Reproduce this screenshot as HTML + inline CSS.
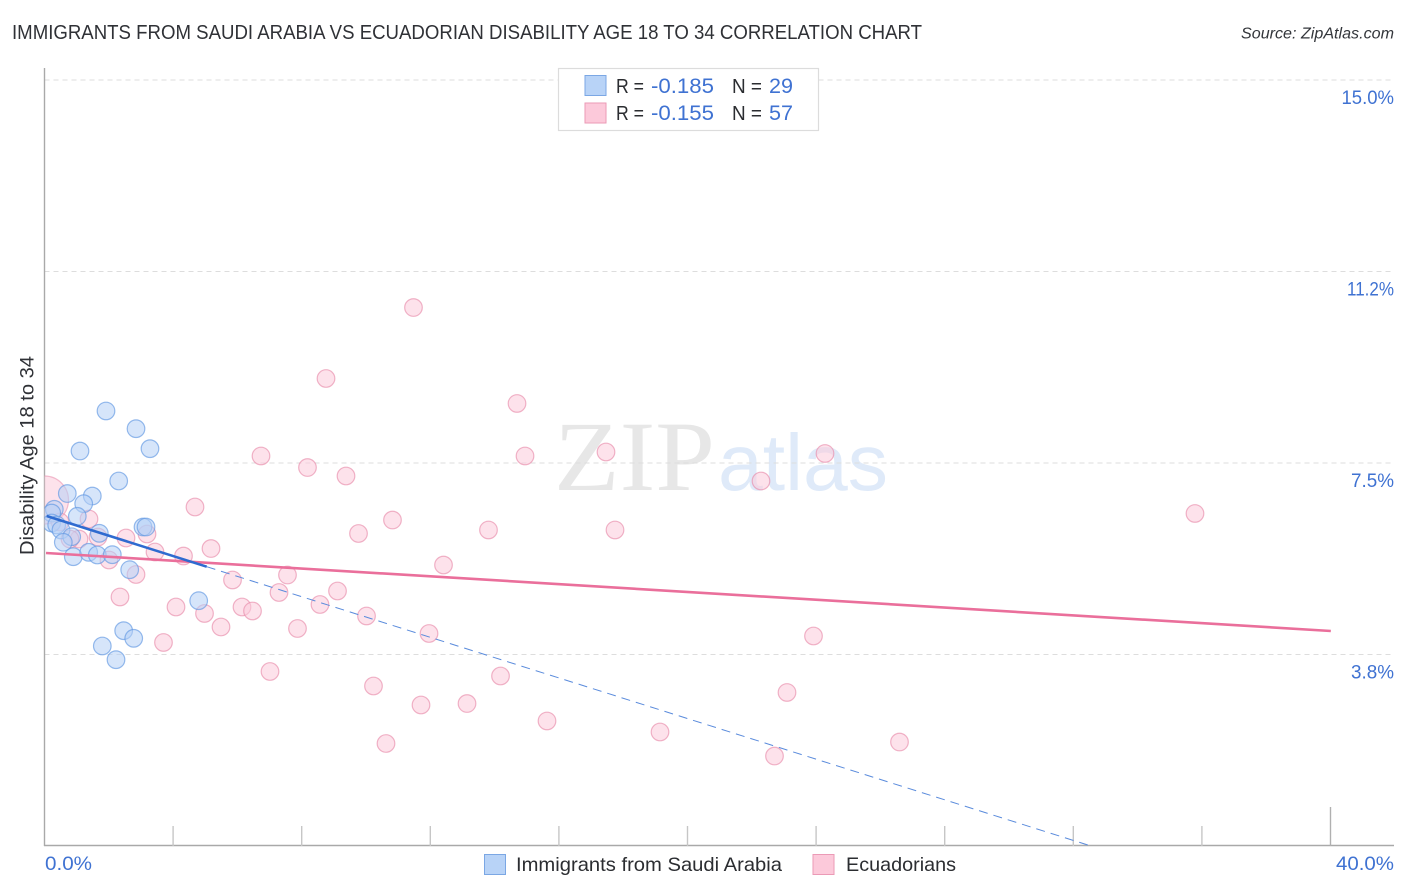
<!DOCTYPE html>
<html lang="en">
<head>
<meta charset="utf-8">
<title>Immigrants from Saudi Arabia vs Ecuadorian Disability Age 18 to 34 Correlation Chart</title>
<style>
html,body{margin:0;padding:0;background:#fff;width:1406px;height:892px;overflow:hidden}
svg{display:block}
text{font-family:"Liberation Sans",sans-serif}
</style>
</head>
<body>
<svg id="chart" xmlns="http://www.w3.org/2000/svg" width="1406" height="892" viewBox="0 0 1406 892">
  <defs>
    <clipPath id="plot-clip"><rect x="44.5" y="60" width="1350" height="786"/></clipPath>
  </defs>
  <text x="12" y="39" font-size="20" fill="#2f3136" textLength="910" lengthAdjust="spacingAndGlyphs">IMMIGRANTS FROM SAUDI ARABIA VS ECUADORIAN DISABILITY AGE 18 TO 34 CORRELATION CHART</text>
  <text x="1241" y="38.5" font-size="15.5" font-style="italic" fill="#33363b" textLength="153" lengthAdjust="spacingAndGlyphs">Source: ZipAtlas.com</text>

  <g>
    <text x="554" y="490" font-size="100" fill="#e7e7e7" textLength="161" lengthAdjust="spacingAndGlyphs" style="font-family:'Liberation Serif',serif">ZIP</text>
    <text x="718" y="490" font-size="80" fill="#dfeaf9" textLength="170" lengthAdjust="spacingAndGlyphs">atlas</text>
  </g>

  <g id="grid"></g>
  <g id="axes"></g>
  <g id="marks" clip-path="url(#plot-clip)"></g>
  <g id="labels"></g>

  <text transform="translate(33.5,555) rotate(-90)" x="0" y="0" font-size="19" fill="#2f3136" textLength="199" lengthAdjust="spacingAndGlyphs">Disability Age 18 to 34</text>

  <g>
    <rect x="558.5" y="68.5" width="260" height="62" fill="#fff" stroke="#dcdcdc" stroke-width="1.2"/>
    <rect x="585" y="75.5" width="21" height="20" fill="#b8d3f7" stroke="#7ba7e4" stroke-width="1"/>
    <rect x="585" y="103" width="21" height="20" fill="#fcc9da" stroke="#eb9ab6" stroke-width="1"/>
    <text x="616" y="93" font-size="20" fill="#2b2d31" textLength="28" lengthAdjust="spacingAndGlyphs">R =</text>
    <text x="651" y="93" font-size="21" fill="#3f72d2" textLength="63" lengthAdjust="spacingAndGlyphs">-0.185</text>
    <text x="732" y="93" font-size="20" fill="#2b2d31" textLength="30" lengthAdjust="spacingAndGlyphs">N =</text>
    <text x="769" y="93" font-size="21" fill="#3f72d2" textLength="24" lengthAdjust="spacingAndGlyphs">29</text>
    <text x="616" y="120" font-size="20" fill="#2b2d31" textLength="28" lengthAdjust="spacingAndGlyphs">R =</text>
    <text x="651" y="120" font-size="21" fill="#3f72d2" textLength="63" lengthAdjust="spacingAndGlyphs">-0.155</text>
    <text x="732" y="120" font-size="20" fill="#2b2d31" textLength="30" lengthAdjust="spacingAndGlyphs">N =</text>
    <text x="769" y="120" font-size="21" fill="#3f72d2" textLength="24" lengthAdjust="spacingAndGlyphs">57</text>
  </g>

  <g>
    <rect x="484.5" y="854.5" width="21" height="20" fill="#b8d3f7" stroke="#7ba7e4" stroke-width="1"/>
    <text x="516" y="871" font-size="19.5" fill="#2b2d31" textLength="266" lengthAdjust="spacingAndGlyphs">Immigrants from Saudi Arabia</text>
    <rect x="813" y="854.5" width="21" height="20" fill="#fcc9da" stroke="#eb9ab6" stroke-width="1"/>
    <text x="846" y="871" font-size="19.5" fill="#2b2d31" textLength="110" lengthAdjust="spacingAndGlyphs">Ecuadorians</text>
  </g>
</svg>
<script>
const yTicks = [15, 11.25, 7.5, 3.75];
const yTickLabels = ["15.0%", "11.2%", "7.5%", "3.8%"];
const xTicks = [4, 8, 12, 16, 20, 24, 28, 32, 36, 40];
const xEndTicks = [0, 40];
const xEndLabels = ["0.0%", "40.0%"];

const saudiX = [1.913,2.846,3.281,1.104,2.308,0.709,1.487,1.219,0.305,0.224,1.020,3.064,3.157,0.224,0.379,0.513,1.705,0.846,0.585,0.896,1.375,1.642,2.109,2.650,4.796,2.463,2.775,1.798,2.224];
const saudiY = [8.518,8.171,7.780,7.734,7.147,6.902,6.853,6.703,6.593,6.520,6.456,6.246,6.246,6.325,6.286,6.188,6.123,6.056,5.947,5.665,5.751,5.698,5.704,5.410,4.803,4.216,4.067,3.916,3.648];

const ecuadorX = [11.477,8.756,14.697,6.734,14.946,17.465,24.277,8.180,9.378,22.286,4.681,35.785,10.824,9.767,13.810,17.745,5.179,4.323,3.437,3.188,2.535,2.006,2.846,2.348,4.090,4.977,5.490,3.701,5.848,6.143,6.470,7.294,7.558,8.569,9.114,7.869,10.016,12.411,11.960,7.014,10.233,14.184,11.711,13.142,10.622,15.630,19.145,22.706,23.095,23.919,26.594,1.384,1.073,0.793,1.664,0.482];
const ecuadorY = [10.544,9.154,8.665,7.637,7.637,7.715,7.686,7.411,7.245,7.147,6.638,6.511,6.383,6.119,6.188,6.188,5.825,5.678,5.757,6.109,6.031,5.600,5.316,4.876,4.680,4.553,4.288,3.985,5.209,4.680,4.602,4.964,5.306,4.729,4.993,4.259,4.504,5.502,4.161,3.417,3.133,3.329,2.761,2.790,2.007,2.448,2.232,1.762,3.006,4.112,2.036,6.403,6.011,6.011,6.050,6.344];

const ecuadorBubbleX = [0.0];
const ecuadorBubbleY = [6.775];

const saudiTrendX = [0.068, 5.045];
const saudiTrendY = [6.462, 5.469];
const saudiDashX = [5.045, 32.55];
const saudiDashY = [5.469, 0];
const ecuadorTrendX = [0.047, 40.01];
const ecuadorTrendY = [5.737, 4.21];

const SVGNS = "http://www.w3.org/2000/svg";
const xScale = function (v) { return 44.5 + v * 32.15; };
const yScale = function (v) { return 846 - v * 51.07; };

function make(parent, tag, attrs) {
  const el = document.createElementNS(SVGNS, tag);
  Object.keys(attrs).forEach(function (k) { el.setAttribute(k, attrs[k]); });
  parent.appendChild(el);
  return el;
}

/* The reference tick font has a narrow "1" and wide "0"; fit label widths per glyph. */
function tickLabelWidth(s) {
  let w = 0;
  for (const ch of s) {
    if (ch === "1") w += 7.5;
    else if (ch === "0") w += 13;
    else if (ch === ".") w += 4;
    else if (ch === "%") w += 17;
    else w += 11;
  }
  return w;
}

const grid = document.getElementById("grid");
const axes = document.getElementById("axes");
const marks = document.getElementById("marks");
const labels = document.getElementById("labels");

yTicks.forEach(function (t, i) {
  const line = make(grid, "line", {x1: 44.5, x2: 1394, y1: yScale(t), y2: yScale(t), stroke: "#dddddd", "stroke-width": 1, "stroke-dasharray": "5 4"});
  
  
  const label = make(labels, "text", {x: 1394, y: yScale(t) + 24, "font-size": 19.5, fill: "#3f72d2", "text-anchor": "end", textLength: tickLabelWidth(yTickLabels[i]), lengthAdjust: "spacingAndGlyphs"});
  label.textContent = yTickLabels[i];
  
  
});

const yAxis = make(axes, "line", {x1: 44.5, x2: 44.5, y1: 68, y2: 846, stroke: "#a9a9a9", "stroke-width": 1.4});


const xAxis = make(axes, "line", {x1: 44, x2: 1394, y1: 845.5, y2: 845.5, stroke: "#a9a9a9", "stroke-width": 1.4});



xTicks.forEach(function (t) {
  const last = t === xEndTicks[1];
  const tick = make(axes, "line", {x1: xScale(t), x2: xScale(t), y1: last ? 807 : 826, y2: 846, stroke: last ? "#b0b0b0" : "#c6c6c6", "stroke-width": 1.4});
  
  
});

xEndTicks.forEach(function (t, i) {
  const label = make(labels, "text", {x: i === 0 ? xScale(t) + 0.5 : 1394, y: 870, "font-size": 19.5, fill: "#3f72d2", "text-anchor": i === 0 ? "start" : "end", textLength: tickLabelWidth(xEndLabels[i]), lengthAdjust: "spacingAndGlyphs"});
  label.textContent = xEndLabels[i];
  
  
});

function drawPoints(xs, ys, r, fill, stroke, seriesName) {
  xs.forEach(function (v, i) {
    const c = make(marks, "circle", {cx: xScale(v), cy: yScale(ys[i]), r: r, fill: fill, "fill-opacity": 0.55, stroke: stroke, "stroke-opacity": 0.65, "stroke-width": 1.2});
    
    
  });
}

drawPoints(ecuadorBubbleX, ecuadorBubbleY, 24, "#fbcbdb", "#eb9ab6", "ecuadorian-bubble");
drawPoints(ecuadorX, ecuadorY, 8.8, "#fbcbdb", "#e88cab", "ecuadorian-point");
drawPoints(saudiX, saudiY, 8.8, "#b4d0f5", "#5f96e2", "saudi-point");

function drawLine(xs, ys, attrs, name) {
  const l = make(marks, "line", Object.assign({x1: xScale(xs[0]), y1: yScale(ys[0]), x2: xScale(xs[1]), y2: yScale(ys[1])}, attrs));
  
  
}

drawLine(ecuadorTrendX, ecuadorTrendY, {stroke: "#ea6f9b", "stroke-width": 2.6}, "ecuadorian-trend-line");
drawLine(saudiDashX, saudiDashY, {stroke: "#5a8bdc", "stroke-width": 1, "stroke-dasharray": "9 6"}, "saudi-trend-extension");
drawLine(saudiTrendX, saudiTrendY, {stroke: "#2f6bd0", "stroke-width": 2.6}, "saudi-trend-line");
</script>
</body>
</html>
